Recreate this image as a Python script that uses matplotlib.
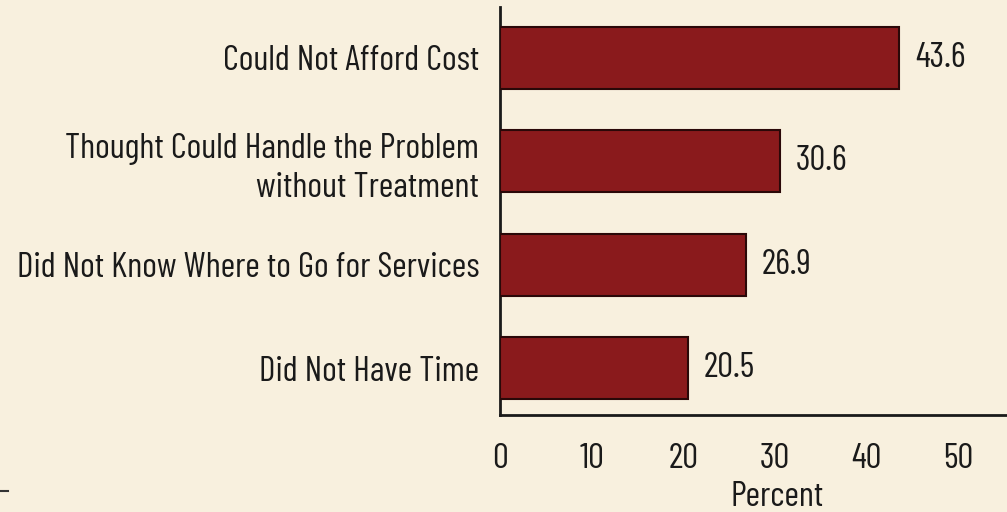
import matplotlib
matplotlib.use("Agg")
import matplotlib.pyplot as plt
from matplotlib.lines import Line2D

plt.rcParams['font.family'] = ['Barlow Condensed', 'DejaVu Sans']

categories = [
    "Could Not Afford Cost",
    "Thought Could Handle the Problem\nwithout Treatment",
    "Did Not Know Where to Go for Services",
    "Did Not Have Time",
]
values = [43.6, 30.6, 26.9, 20.5]
xticks = [0, 10, 20, 30, 40, 50]

bg = '#f8f0de'
bar_color = '#8a1a1c'
ink = '#1a1a1a'
fs = 25.5

fig = plt.figure(figsize=(10.07, 5.12), dpi=100, facecolor=bg)
ax = fig.add_axes([0.4965, 0.189, 0.5035, 0.797], facecolor=bg)

ypos = list(range(len(categories)))
ax.barh(ypos, values, height=0.6, color=bar_color, edgecolor='#2a0808', linewidth=1.5, zorder=3)

for y, v in zip(ypos, values):
    ax.text(v + 1.7, y, f"{v:.1f}", va='center', ha='left', fontsize=fs, color=ink)

ax.set_xlim(0, 55.35)
ax.set_ylim(3.455, -0.49)
ax.set_yticks(ypos)
ax.set_yticklabels(categories, fontsize=fs, color=ink, ha='right', linespacing=1.3)
ax.set_xticks(xticks)
ax.set_xticklabels([str(t) for t in xticks], fontsize=fs, color=ink)
ax.tick_params(axis='both', length=0)
ax.tick_params(axis='y', pad=15)
ax.tick_params(axis='x', pad=20)

for side in ('top', 'right'):
    ax.spines[side].set_visible(False)
for side in ('left', 'bottom'):
    ax.spines[side].set_linewidth(2)
    ax.spines[side].set_color(ink)

ax.set_xlabel("Percent", fontsize=fs, color=ink)
ax.xaxis.label.set_verticalalignment('center')
ax.xaxis.set_label_coords(0.546, -0.201)

fig.add_artist(Line2D([0, 0.008], [0.041, 0.041], transform=fig.transFigure,
                      color='#333333', linewidth=1.5))

fig.savefig("out.png", dpi=100, facecolor=bg)
